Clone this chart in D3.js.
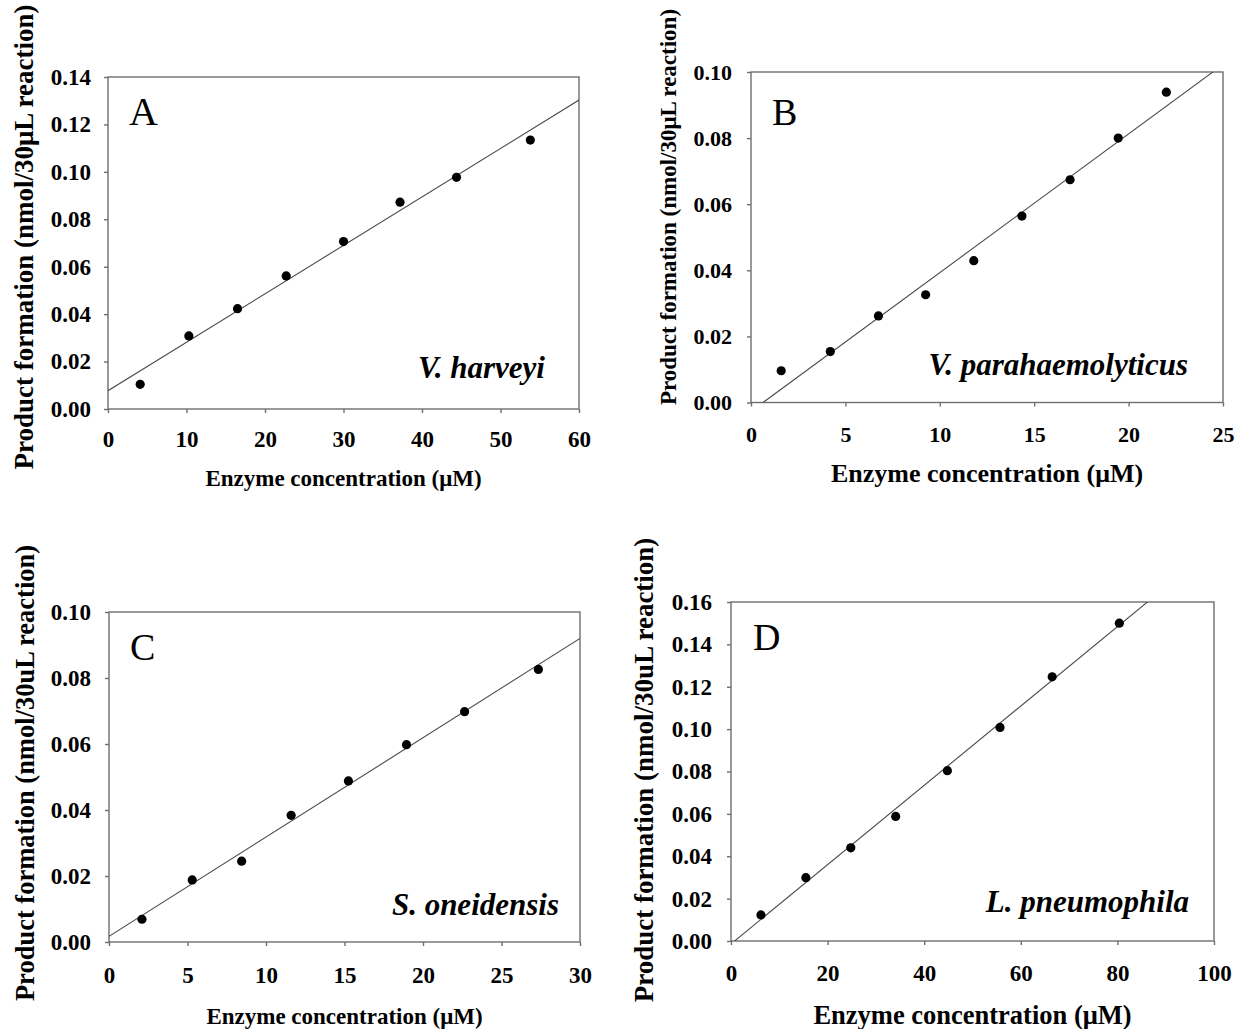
<!DOCTYPE html>
<html>
<head>
<meta charset="utf-8">
<script src="https://cdn.jsdelivr.net/npm/d3@7"></script>
<style>
  body { margin: 0; background: #fff; }
  svg { display: block; font-family: "Liberation Serif", "Times New Roman", serif; }
</style>
</head>
<body>
<svg id="chart" width="1239" height="1029"></svg>
<script>
// data
const panelLetters = ["A", "B", "C", "D"];
const speciesNames = ["V. harveyi", "V. parahaemolyticus", "S. oneidensis", "L. pneumophila"];
const yTitles = [
  "Product formation (nmol/30\u03bcL reaction)",
  "Product formation (nmol/30\u03bcL reaction)",
  "Product formation (nmol/30uL reaction)",
  "Product formation (nmol/30uL reaction)"
];
const xTitle = "Enzyme concentration (\u03bcM)";

const conc_A = [4.1, 10.3, 16.5, 22.7, 30.0, 37.2, 44.4, 53.8];
const product_A = [0.0104, 0.0308, 0.0423, 0.0561, 0.0706, 0.0872, 0.0977, 0.1134];
const fit_A = [0.002043, 0.0077]; // slope, intercept

const conc_B = [1.6, 4.2, 6.75, 9.25, 11.8, 14.35, 16.9, 19.45, 22.0];
const product_B = [0.0096, 0.0154, 0.0262, 0.0326, 0.0429, 0.0564, 0.0674, 0.0800, 0.0939];
const fit_B = [0.004198, -0.00269];

const conc_C = [2.1, 5.3, 8.45, 11.6, 15.25, 18.95, 22.65, 27.35];
const product_C = [0.0069, 0.0188, 0.0245, 0.0384, 0.0488, 0.0598, 0.0698, 0.0826];
const fit_C = [0.00301, 0.0017];

const conc_D = [6.2, 15.5, 24.8, 34.1, 44.8, 55.7, 66.5, 80.4];
const product_D = [0.0123, 0.0299, 0.0440, 0.0588, 0.0804, 0.1008, 0.1247, 0.150];
const fit_D = [0.001872, -0.0014];

const xTicks_A = [0, 10, 20, 30, 40, 50, 60];
const xTicks_B = [0, 5, 10, 15, 20, 25];
const xTicks_C = [0, 5, 10, 15, 20, 25, 30];
const xTicks_D = [0, 20, 40, 60, 80, 100];
const yTicks_A = [0, 0.02, 0.04, 0.06, 0.08, 0.10, 0.12, 0.14];
const yTicks_B = [0, 0.02, 0.04, 0.06, 0.08, 0.10];
const yTicks_C = [0, 0.02, 0.04, 0.06, 0.08, 0.10];
const yTicks_D = [0, 0.02, 0.04, 0.06, 0.08, 0.10, 0.12, 0.14, 0.16];

const svg = d3.select("#chart");

// layout for each panel (pixels)
const layout = [
  { l: 108, r: 579, t: 77, b: 409, tick: 23, xlabY: 38, ylabPad: 13,
    yt: { x: 33, y: 237, fs: 27 }, xt: { y: 486, fs: 23 },
    letter: { x: 129, y: 125, fs: 40 }, sp: { x: 545, y: 378, fs: 31 } },
  { l: 751, r: 1223, t: 72, b: 402.5, tick: 22, xlabY: 39.5, ylabPad: 15,
    yt: { x: 676, y: 207, fs: 23 }, xt: { y: 482, fs: 26 },
    letter: { x: 772, y: 125, fs: 38 }, sp: { x: 1188, y: 375, fs: 31 } },
  { l: 109, r: 580, t: 612, b: 942, tick: 23, xlabY: 41, ylabPad: 14,
    yt: { x: 34, y: 773, fs: 26.5 }, xt: { y: 1024, fs: 23 },
    letter: { x: 130, y: 660, fs: 38 }, sp: { x: 559, y: 915, fs: 31 } },
  { l: 731, r: 1214, t: 602, b: 941, tick: 23, xlabY: 40, ylabPad: 15,
    yt: { x: 653, y: 770, fs: 27 }, xt: { y: 1024, fs: 26.5 },
    letter: { x: 753, y: 650, fs: 38 }, sp: { x: 1189, y: 912, fs: 31 } }
];

const panels = [
  { xs: conc_A, ys: product_A, fit: fit_A, xt: xTicks_A, yt: yTicks_A },
  { xs: conc_B, ys: product_B, fit: fit_B, xt: xTicks_B, yt: yTicks_B },
  { xs: conc_C, ys: product_C, fit: fit_C, xt: xTicks_C, yt: yTicks_C },
  { xs: conc_D, ys: product_D, fit: fit_D, xt: xTicks_D, yt: yTicks_D }
];

panels.forEach((p, i) => {
  const L = layout[i];
  const x = d3.scaleLinear().domain(d3.extent(p.xt)).range([L.l, L.r]);
  const y = d3.scaleLinear().domain(d3.extent(p.yt)).range([L.b, L.t]);
  const g = svg.append("g");

  // clip for the fit line
  g.append("clipPath").attr("id", "clip" + i)
    .append("rect")
    .attr("x", L.l).attr("y", L.t)
    .attr("width", L.r - L.l).attr("height", L.b - L.t);

  // frame
  g.append("rect")
    .attr("x", L.l).attr("y", L.t)
    .attr("width", L.r - L.l).attr("height", L.b - L.t)
    .attr("fill", "none").attr("stroke", "#6e6e6e").attr("stroke-width", 1.4);

  const xAxis = g.append("g")
    .attr("transform", `translate(0,${L.b})`)
    .call(d3.axisBottom(x).tickValues(p.xt).tickFormat(d3.format("d"))
      .tickSize(4).tickSizeOuter(0));
  xAxis.selectAll("text").attr("dy", null).attr("y", L.xlabY);

  const yAxis = g.append("g")
    .attr("transform", `translate(${L.l},0)`)
    .call(d3.axisLeft(y).tickValues(p.yt).tickFormat(d3.format(".2f"))
      .tickSize(4).tickSizeOuter(0).tickPadding(L.ylabPad));

  [xAxis, yAxis].forEach(a => {
    a.select(".domain").remove();
    a.selectAll("line").attr("stroke", "#6e6e6e").attr("stroke-width", 1.4);
    a.selectAll("text")
      .attr("fill", "#000")
      .style("font-family", "Liberation Serif, serif")
      .style("font-weight", "bold")
      .style("font-size", L.tick + "px");
  });

  // regression line
  const lineData = x.domain().map(v => ({ cx: v, cy: p.fit[0] * v + p.fit[1] }));
  g.append("path")
    .datum(lineData)
    .attr("clip-path", `url(#clip${i})`)
    .attr("d", d3.line().x(d => x(d.cx)).y(d => y(d.cy)))
    .attr("fill", "none").attr("stroke", "#4a4a4a").attr("stroke-width", 1.1);

  // points
  g.selectAll("circle.pt")
    .data(p.xs.map((v, k) => [v, p.ys[k]]))
    .join("circle")
    .attr("class", "pt")
    .attr("cx", d => x(d[0])).attr("cy", d => y(d[1]))
    .attr("r", 4.6).attr("fill", "#000");

  // texts
  g.append("text")
    .attr("x", L.letter.x).attr("y", L.letter.y)
    .style("font-size", L.letter.fs + "px")
    .text(panelLetters[i]);

  g.append("text")
    .attr("x", L.sp.x).attr("y", L.sp.y)
    .attr("text-anchor", "end")
    .style("font-size", L.sp.fs + "px").style("font-weight", "bold").style("font-style", "italic")
    .text(speciesNames[i]);

  g.append("text")
    .attr("transform", `translate(${L.yt.x},${L.yt.y}) rotate(-90)`)
    .attr("text-anchor", "middle")
    .style("font-size", L.yt.fs + "px").style("font-weight", "bold")
    .text(yTitles[i]);

  g.append("text")
    .attr("x", (L.l + L.r) / 2).attr("y", L.xt.y)
    .attr("text-anchor", "middle")
    .style("font-size", L.xt.fs + "px").style("font-weight", "bold")
    .text(xTitle);
});
</script>
</body>
</html>
